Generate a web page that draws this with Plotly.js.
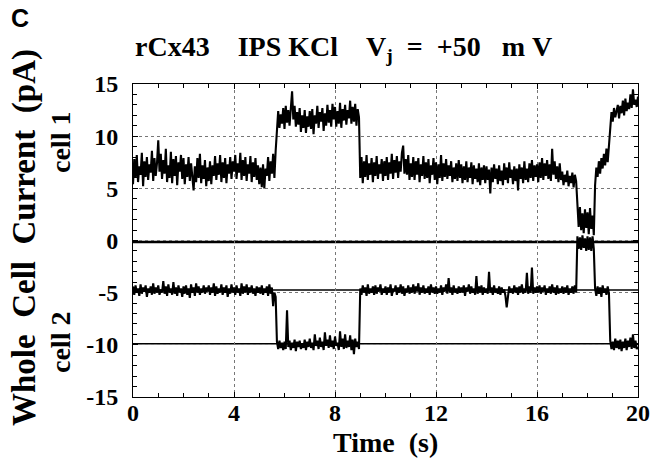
<!DOCTYPE html>
<html>
<head>
<meta charset="utf-8">
<script src="https://cdn.plot.ly/plotly-3.0.1.min.js"></script>
<style>html,body{margin:0;padding:0;background:#fff;}#plot{width:652px;height:466px;}</style>
</head>
<body>
<div id="plot"></div>
<script>
// Time axis: samples every 0.05 s starting at 0 s
const timeStart = 0;
const timeStep = 0.05;

// Cell 1 whole-cell current (pA), one row per second
const cell1Current = [
  5.4, 7.8, 6.0, 8.2, 5.6, 7.1, 6.3, 8.4, 5.2, 7.6, 6.1, 8.0, 5.8, 7.3, 6.5, 8.6, 5.7, 7.9, 6.2, 7.4,
  9.6, 6.6, 8.3, 5.9, 7.7, 6.4, 8.8, 5.6, 7.2, 6.0, 8.5, 5.5, 7.8, 6.2, 8.1, 5.3, 7.5, 6.6, 8.2, 5.9,
  7.9, 5.4, 7.3, 6.1, 8.0, 5.7, 7.4, 5.8, 4.8, 7.1, 5.6, 7.9, 6.0, 8.3, 5.5, 7.2, 5.9, 7.7, 5.2, 7.0,
  5.7, 7.6, 5.4, 7.2, 6.2, 8.1, 5.8, 7.4, 6.3, 8.2, 5.6, 7.5, 6.0, 7.9, 5.5, 7.3, 6.4, 8.0, 5.9, 7.6,
  6.6, 8.2, 5.9, 7.4, 6.5, 8.4, 5.8, 7.7, 6.2, 8.0, 5.7, 7.3, 6.4, 8.1, 5.6, 7.5, 6.1, 7.9, 5.8, 7.2,
  5.4, 7.0, 5.1, 7.3, 5.0, 6.9, 6.2, 8.0, 5.7, 7.6, 6.4, 8.3, 6.0, 8.6, 11.0, 12.4, 10.8, 12.1, 11.2, 12.7,
  10.7, 12.9, 11.3, 12.5, 11.0, 12.8, 14.3, 11.6, 12.9, 10.9, 12.3, 11.1, 12.7, 10.4, 12.0, 10.8, 12.5, 10.3, 11.9, 10.9,
  12.4, 10.7, 12.6, 10.2, 12.0, 11.2, 12.9, 10.8, 12.3, 11.4, 12.7, 10.5, 12.2, 11.0, 13.0, 11.3, 12.5, 10.9, 13.1, 11.6,
  12.8, 10.9, 12.4, 11.2, 13.2, 10.8, 12.6, 11.5, 13.0, 11.1, 12.5, 11.7, 13.4, 11.2, 12.8, 11.4, 13.1, 11.0, 12.6, 11.8,
  6.0, 8.0, 5.5, 7.6, 6.1, 8.2, 5.8, 7.4, 6.3, 7.9, 5.6, 7.5, 6.2, 8.1, 5.9, 7.3, 6.4, 7.8, 5.7, 7.6,
  6.2, 8.0, 5.8, 7.5, 6.4, 8.3, 5.9, 7.7, 6.5, 8.1, 6.0, 7.6, 6.6, 8.4, 9.1, 6.4, 7.8, 6.3, 8.2, 5.8,
  7.4, 6.1, 8.0, 5.8, 7.6, 6.3, 7.9, 5.6, 7.3, 6.2, 8.1, 5.9, 7.5, 6.0, 7.8, 5.5, 7.2, 6.3, 7.9, 5.8,
  7.5, 5.4, 7.3, 6.0, 8.2, 5.7, 7.4, 6.1, 7.8, 5.9, 7.2, 6.2, 7.6, 5.6, 7.0, 5.9, 7.4, 5.7, 7.7, 6.0,
  7.3, 5.5, 7.1, 5.8, 7.6, 5.6, 7.0, 6.0, 7.5, 5.4, 7.2, 5.9, 6.9, 5.6, 7.4, 5.3, 7.0, 5.8, 7.2, 5.5,
  7.1, 5.8, 6.8, 4.5, 7.0, 5.6, 7.3, 5.9, 6.9, 5.4, 7.2, 5.7, 6.7, 5.3, 7.4, 5.8, 7.0, 5.5, 7.5, 6.0,
  6.8, 5.4, 7.1, 5.7, 6.9, 4.8, 7.3, 5.9, 7.0, 5.5, 7.6, 5.8, 6.9, 5.6, 7.4, 6.0, 7.7, 5.7, 7.2, 6.1,
  7.3, 5.6, 7.5, 6.0, 7.9, 5.8, 7.4, 6.2, 7.7, 5.9, 7.3, 5.7, 8.8, 6.3, 7.6, 5.9, 7.1, 5.6, 7.4, 5.8,
  6.6, 5.3, 6.3, 5.6, 6.7, 5.2, 6.2, 5.5, 6.5, 5.1, 6.3, 5.7, 2.8, 1.3, 3.2, 1.0, 2.6, 0.7, 3.0, 1.2,
  2.7, 0.6, 3.1, 1.1, 2.4, 0.5, 5.3, 7.0, 6.1, 7.6, 6.4, 7.9, 6.9, 8.3, 7.2, 8.8, 7.5, 9.0, 11.2, 12.3,
  11.4, 12.7, 11.8, 12.3, 13.0, 11.7, 12.9, 12.2, 13.4, 12.0, 13.6, 12.4, 13.2, 12.6, 14.0, 12.7, 14.5, 13.0, 13.5, 12.8,
  13.8
];

// Cell 2 whole-cell current (pA), one row per second
const cell2Current = [
  -4.4, -5.2, -4.3, -5.0, -4.6, -5.3, -4.2, -5.1, -4.5, -4.9, -4.3, -5.4, -4.6, -5.0, -4.4, -5.2, -4.1, -5.1, -4.5, -5.0,
  -4.3, -5.2, -4.7, -5.0, -3.9, -5.1, -4.4, -5.3, -4.2, -5.0, -4.6, -5.2, -4.0, -5.1, -4.5, -5.3, -4.3, -5.0, -4.6, -5.4,
  -4.4, -5.1, -4.3, -5.2, -4.6, -5.5, -4.2, -5.0, -4.5, -5.3, -4.1, -5.0, -4.4, -5.2, -4.6, -5.0, -4.3, -5.1, -4.5, -4.9,
  -4.3, -5.2, -4.5, -5.0, -4.1, -5.3, -4.4, -5.1, -4.6, -5.0, -4.2, -5.2, -4.5, -5.0, -4.3, -5.4, -4.6, -5.1, -4.2, -5.0,
  -4.5, -5.2, -4.3, -5.0, -4.6, -5.3, -4.1, -5.1, -4.4, -5.0, -4.2, -5.2, -4.5, -5.0, -4.3, -5.1, -4.6, -5.3, -4.4, -5.0,
  -4.5, -5.1, -4.3, -5.2, -4.6, -5.0, -4.4, -5.3, -4.2, -5.1, -4.5, -6.3, -5.0, -5.4, -9.7, -10.4, -9.6, -10.3, -9.8, -10.5,
  -9.7, -10.4, -6.7, -10.2, -9.6, -10.5, -9.8, -10.3, -9.5, -10.6, -9.7, -10.2, -9.6, -10.4, -9.9, -10.3, -9.5, -10.5, -9.7, -10.2,
  -9.4, -10.3, -9.8, -10.5, -9.0, -10.1, -9.6, -10.4, -9.3, -10.2, -9.7, -10.5, -8.8, -10.1, -9.5, -10.3, -9.1, -10.2, -9.6, -10.4,
  -9.2, -10.1, -9.8, -10.5, -8.7, -10.2, -9.4, -10.4, -9.0, -10.3, -9.6, -10.2, -9.1, -10.5, -9.5, -10.9, -9.4, -10.2, -9.7, -10.4,
  -4.6, -5.2, -4.3, -5.0, -4.5, -5.3, -4.2, -5.1, -4.6, -5.0, -4.4, -5.2, -4.3, -5.1, -4.5, -4.9, -4.2, -5.2, -4.6, -5.0,
  -4.4, -5.2, -4.5, -5.0, -4.2, -5.3, -4.6, -4.9, -4.3, -5.2, -4.5, -5.0, -4.2, -5.1, -4.4, -5.3, -4.6, -5.0, -4.3, -5.1,
  -4.5, -5.0, -4.2, -5.1, -4.4, -4.9, -4.1, -5.2, -4.5, -5.0, -4.3, -5.1, -4.6, -5.0, -4.4, -5.2, -4.2, -5.0, -4.5, -5.1,
  -4.4, -5.1, -4.6, -5.0, -4.3, -5.2, -4.5, -4.9, -4.2, -5.1, -3.6, -5.0, -4.5, -5.2, -4.3, -5.0, -4.6, -5.1, -4.4, -5.0,
  -4.5, -5.0, -4.3, -5.3, -4.5, -4.9, -4.2, -5.1, -4.4, -5.0, -4.6, -5.2, -3.4, -5.1, -4.4, -5.0, -4.3, -5.2, -4.5, -5.0,
  -4.6, -5.1, -3.0, -5.0, -4.5, -5.2, -4.3, -5.0, -4.6, -5.1, -4.4, -5.2, -4.5, -5.0, -4.7, -5.3, -6.4, -5.1, -4.4, -5.0,
  -4.6, -5.1, -4.3, -5.0, -4.5, -5.2, -4.4, -5.0, -4.2, -5.1, -4.6, -5.0, -3.1, -5.1, -4.4, -5.0, -2.6, -5.1, -4.5, -5.0,
  -4.4, -5.0, -4.3, -5.1, -4.5, -4.9, -4.3, -5.2, -4.6, -5.0, -4.4, -5.1, -4.2, -5.0, -4.5, -5.2, -4.3, -5.1, -4.6, -5.0,
  -4.4, -5.1, -4.5, -5.0, -4.3, -5.2, -4.6, -5.0, -4.4, -5.1, -4.3, -5.0, 0.4, -0.8, 0.3, -0.9, 0.5, -0.7, 0.2, -1.0,
  0.4, -0.9, 0.3, -1.0, 0.4, -0.8, -4.6, -5.3, -4.4, -5.1, -4.5, -5.4, -4.3, -5.0, -4.6, -5.2, -4.4, -5.1, -9.6, -10.4,
  -9.7, -10.5, -9.4, -10.3, -9.6, -10.4, -9.5, -10.6, -9.7, -10.3, -9.4, -10.5, -9.6, -10.2, -9.3, -10.4, -9.0, -10.3, -9.6, -10.4,
  -10.2
];

// Horizontal reference (baseline) levels drawn across the plot (pA)
const referenceLevels = [-0.15, -4.75, -9.9];
const referenceWidths = [2.5, 1.6, 1.6];

// Axis ticks
const xTickValues = [0, 4, 8, 12, 16, 20];
const yTickValues = [-15, -10, -5, 0, 5, 10, 15];

const serif = '"Liberation Serif", "Times New Roman", serif';

const traces = [
  { type: 'scatter', mode: 'lines', x0: timeStart, dx: timeStep, y: cell1Current,
    line: { color: '#000', width: 2.1 }, hoverinfo: 'skip', showlegend: false },
  { type: 'scatter', mode: 'lines', x0: timeStart, dx: timeStep, y: cell2Current,
    line: { color: '#000', width: 2.1 }, hoverinfo: 'skip', showlegend: false }
];

const shapes = referenceLevels.map((lvl, i) => ({
  type: 'line', xref: 'paper', x0: 0, x1: 1, yref: 'y', y0: lvl, y1: lvl,
  line: { color: '#000', width: referenceWidths[i] }, layer: 'below'
}));

// pixel -> paper helpers for label placement
const L = 133, R = 14, T = 84, B = 69, W = 652, H = 466;
const pw = W - L - R, ph = H - T - B;
const px = v => (v - L) / pw;
const py = v => (H - B - v) / ph;

const layout = {
  width: W, height: H,
  margin: { l: L, r: R, t: T, b: B, pad: 0 },
  paper_bgcolor: '#fff', plot_bgcolor: '#fff',
  showlegend: false,
  xaxis: {
    range: [0, 20], tickvals: xTickValues, ticktext: xTickValues.map(String),
    ticks: 'inside', ticklen: 5, tickwidth: 1, tickcolor: '#000',
    minor: { dtick: 1, tick0: 0, ticks: 'inside', ticklen: 4, tickcolor: '#000', showgrid: false },
    showline: true, linecolor: '#000', linewidth: 1, mirror: 'allticks',
    showgrid: true, gridcolor: '#777', griddash: 'dot', gridwidth: 1,
    zeroline: false,
    tickfont: { family: serif, size: 24, color: '#000', weight: 'bold' },
    ticklabelstandoff: -6
  },
  yaxis: {
    range: [-15, 15], tickvals: yTickValues, ticktext: yTickValues.map(String),
    ticks: 'inside', ticklen: 5, tickwidth: 1, tickcolor: '#000',
    minor: { dtick: 1, tick0: 0, ticks: 'inside', ticklen: 4, tickcolor: '#000', showgrid: false },
    showline: true, linecolor: '#000', linewidth: 1, mirror: 'allticks',
    showgrid: true, gridcolor: '#777', griddash: 'dot', gridwidth: 1,
    zeroline: false,
    tickfont: { family: serif, size: 24, color: '#000', weight: 'bold' },
    ticklabelstandoff: 9
  },
  shapes: shapes,
  annotations: [
    { text: 'C', xref: 'paper', yref: 'paper', x: px(20), y: py(18), showarrow: false,
      xanchor: 'center', yanchor: 'middle',
      font: { family: '"Liberation Sans", Arial, sans-serif', size: 25, color: '#000', weight: 'bold' } },
    { text: 'rCx43\u00a0\u00a0\u00a0\u00a0IPS\u00a0KCl\u00a0\u00a0\u00a0\u00a0V<sub>j</sub>\u00a0\u00a0=\u00a0\u00a0+50\u00a0\u00a0\u00a0m\u00a0V',
      xref: 'paper', yref: 'paper', x: px(343), y: py(48), showarrow: false,
      xanchor: 'center', yanchor: 'middle',
      font: { family: serif, size: 28, color: '#000', weight: 'bold' } },
    { text: 'Whole\u00a0\u00a0Cell\u00a0\u00a0Current\u00a0\u00a0(pA)', textangle: -90,
      xref: 'paper', yref: 'paper', x: px(25), y: py(238), showarrow: false,
      xanchor: 'center', yanchor: 'middle',
      font: { family: serif, size: 33, color: '#000', weight: 'bold' } },
    { text: 'cell\u00a01', textangle: -90,
      xref: 'paper', yref: 'paper', x: px(60), y: py(143), showarrow: false,
      xanchor: 'center', yanchor: 'middle',
      font: { family: serif, size: 28, color: '#000', weight: 'bold' } },
    { text: 'cell\u00a02', textangle: -90,
      xref: 'paper', yref: 'paper', x: px(60), y: py(343), showarrow: false,
      xanchor: 'center', yanchor: 'middle',
      font: { family: serif, size: 28, color: '#000', weight: 'bold' } },
    { text: 'Time\u00a0\u00a0(s)',
      xref: 'paper', yref: 'paper', x: px(385), y: py(442), showarrow: false,
      xanchor: 'center', yanchor: 'middle',
      font: { family: serif, size: 28, color: '#000', weight: 'bold' } }
  ]
};

Plotly.newPlot('plot', traces, layout, { staticPlot: true, displayModeBar: false });
</script>
</body>
</html>
